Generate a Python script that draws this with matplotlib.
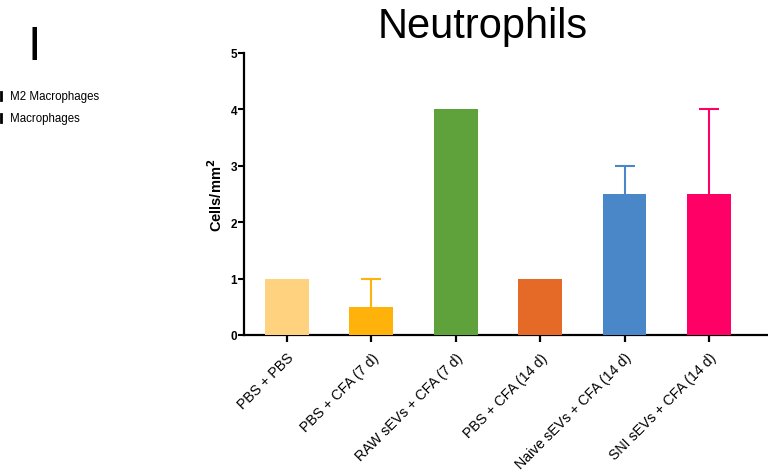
import numpy as np
import matplotlib.pyplot as plt

plt.rcParams['font.family'] = ['Liberation Sans', 'DejaVu Sans']

# Datos
grupos = ['PBS + PBS', 'PBS + CFA (7 d)', 'RAW sEVs + CFA (7 d)', 'PBS + CFA (14 d)',
          'Naive sEVs + CFA (14 d)', 'SNI sEVs + CFA (14 d)']
medias = [1.0, 0.5, 4.0, 1.0, 2.5, 2.5]
errores = [0.0, 0.5, 0.0, 0.0, 0.5, 1.5]
colores = ['#FFD27F', '#FFB30A', '#5FA13A', '#E56A27', '#4A87C8', '#FF0066']
leyenda = ['M2 Macrophages', 'Macrophages']

fig = plt.figure(figsize=(7.68, 4.77), dpi=100)
ax = fig.add_axes([0.3177, 0.2956, 0.6823, 0.5912])

x = np.arange(len(grupos))
ax.bar(x, medias, width=0.52, color=colores, zorder=3)
for xi, m, e, c in zip(x, medias, errores, colores):
    if e > 0:
        ax.errorbar(xi, m, yerr=e, color=c, capsize=7.5, capthick=1.5,
                    elinewidth=1.5, zorder=2)

ax.set_xlim(-0.51, 5.7)
ax.set_ylim(0, 5)
ax.set_yticks([0, 1, 2, 3, 4, 5])
ax.set_yticklabels(['0', '1', '2', '3', '4', '5'], fontweight='bold', fontsize=8.5)
ax.set_xticks(x)
ax.set_xticklabels(grupos, rotation=45, ha='right', rotation_mode='anchor', fontsize=10.2)
ax.set_ylabel('Cells/mm$^\\mathbf{2}$', fontweight='bold', fontsize=10.5, labelpad=4)

for s in ['top', 'right']:
    ax.spines[s].set_visible(False)
for s in ['left', 'bottom']:
    ax.spines[s].set_linewidth(1.6)
ax.tick_params(axis='y', length=4, width=1.5, pad=1)
ax.tick_params(axis='x', length=5, width=1.6, pad=6)

fig.text(0.629, 1 - 38 / 477, 'Neutrophils', fontsize=30, ha='center', va='baseline')
fig.text(0.0443, 0.9, 'I', fontsize=35, ha='center', va='center')
for i, t in enumerate(leyenda):
    yy = 1 - (97 + 22 * i) / 477
    fig.text(0.013, yy, t, fontsize=8.3, va='center', ha='left')
    fig.add_artist(plt.Line2D([0.0015, 0.0015], [yy - 0.008, yy + 0.008],
                              color='black', lw=2, transform=fig.transFigure))

fig.savefig('out.png', dpi=100)
